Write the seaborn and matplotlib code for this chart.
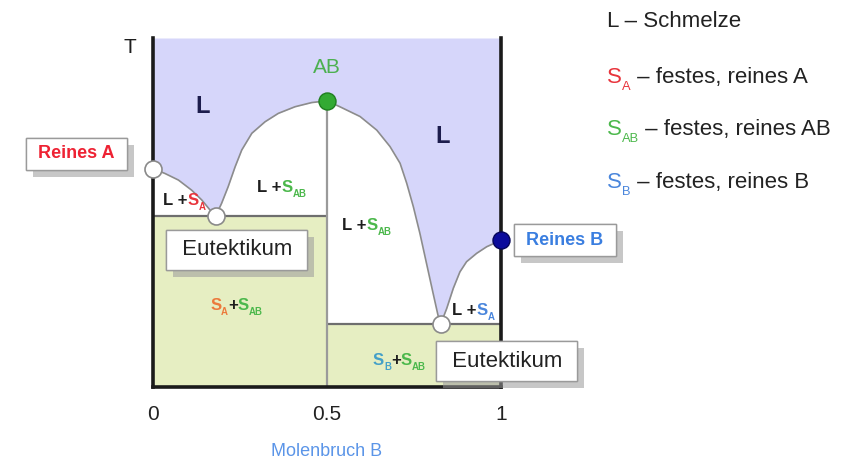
import matplotlib
matplotlib.use("Agg")
import pandas as pd
import matplotlib.pyplot as plt
import matplotlib.patheffects as pe
import seaborn as sns

# Liquiduskurven: Molenbruch B und relative Temperatur (0..100)
branch_a_x  = [0.0, 0.034, 0.073, 0.111, 0.140, 0.164, 0.180]
branch_a_T  = [62.5, 61.2, 59.3, 56.4, 53.6, 50.7, 49.0]
branch_ab_x = [0.180, 0.197, 0.216, 0.236, 0.255, 0.284, 0.322, 0.360, 0.408, 0.456, 0.5,
               0.537, 0.595, 0.643, 0.681, 0.710, 0.729, 0.748, 0.767, 0.786, 0.805, 0.820, 0.827]
branch_ab_T = [49.0, 52.6, 57.4, 63.1, 67.9, 72.7, 76.0, 78.4, 80.3, 81.5, 82.0,
               80.3, 77.5, 73.6, 68.9, 64.1, 58.4, 51.7, 44.0, 35.4, 26.8, 20.1, 18.1]
branch_b_x  = [0.827, 0.844, 0.863, 0.882, 0.901, 0.930, 0.959, 0.988, 1.0]
branch_b_T  = [18.1, 22.5, 28.3, 33.0, 35.9, 38.3, 40.2, 41.5, 42.1]

# Eutektika (links / rechts) und Schmelzpunkte
eut_x   = [0.180, 0.827]
eut_T   = [49.0, 18.1]
melt_names = ["Reines A", "AB", "Reines B"]
melt_x     = [0.0, 0.5, 1.0]
melt_T     = [62.5, 82.0, 42.1]

x_ticks       = [0, 0.5, 1]
x_tick_labels = ["0", "0.5", "1"]

RED    = "#e8343c"
GREEN  = "#4cb84c"
BLUE   = "#4a86dc"
DARK   = "#1e1e1e"
NAVY   = "#1c1c4c"
LAV    = "#d6d6fa"
OLIVE  = "#e6eec2"
CURVE  = "#8c8c8c"

sns.set_style("white")
plt.rcParams["font.family"] = ["Liberation Sans", "DejaVu Sans"]

curves = pd.concat([
    pd.DataFrame({"x": branch_a_x, "T": branch_a_T, "branch": "A"}),
    pd.DataFrame({"x": branch_ab_x, "T": branch_ab_T, "branch": "AB"}),
    pd.DataFrame({"x": branch_b_x, "T": branch_b_T, "branch": "B"}),
], ignore_index=True)

fig = plt.figure(figsize=(8.65, 4.66), dpi=100)
ax = fig.add_axes([153 / 865, 79 / 466, 348 / 865, 349 / 466])

# Flaechen
liq_x = branch_a_x + branch_ab_x[1:] + branch_b_x[1:]
liq_T = branch_a_T + branch_ab_T[1:] + branch_b_T[1:]
ax.fill_between(liq_x, liq_T, 100, color=LAV, lw=0, zorder=0)
ax.fill_between([0, 0.5], 0, eut_T[0], color=OLIVE, lw=0, zorder=0)
ax.fill_between([0.5, 1], 0, eut_T[1], color=OLIVE, lw=0, zorder=0)

# Linien
ax.hlines(eut_T[0], 0, 0.5, color="#6e6e6e", lw=1.6, zorder=1)
ax.hlines(eut_T[1], 0.5, 1, color="#6e6e6e", lw=1.6, zorder=1)
ax.vlines(0.5, 0, melt_T[1], color="#9a9a9a", lw=1.6, zorder=1)
sns.lineplot(data=curves, x="x", y="T", units="branch", estimator=None, sort=False,
             color=CURVE, lw=1.2, ax=ax, zorder=2)

# Punkte
white_pts = pd.DataFrame({"x": [melt_x[0]] + eut_x, "T": [melt_T[0]] + eut_T})
sns.scatterplot(data=white_pts, x="x", y="T", color="white", edgecolor="#8a8a8a",
                linewidth=1.2, s=150, ax=ax, zorder=5, clip_on=False)
sns.scatterplot(x=[melt_x[1]], y=[melt_T[1]], color="#33aa33", edgecolor="#1f7f1f",
                linewidth=1, s=150, ax=ax, zorder=5, clip_on=False)
sns.scatterplot(x=[melt_x[2]], y=[melt_T[2]], color="#0c0c9c", edgecolor="#06065a",
                linewidth=1, s=150, ax=ax, zorder=5, clip_on=False)

ax.set_xlim(0, 1)
ax.set_ylim(0, 100)
ax.set_xticks(x_ticks)
ax.set_xticklabels(x_tick_labels, fontsize=15, color="#222222")
ax.set_yticks([])
ax.tick_params(length=0, pad=13)
ax.set_xlabel("Molenbruch B", fontsize=13, color="#5b95e8", labelpad=14)
ax.set_ylabel("")
for side in ["left", "right", "bottom"]:
    ax.spines[side].set_color("#1a1a1a")
    ax.spines[side].set_linewidth(2.6)
ax.spines["top"].set_visible(False)


def rich(x, y, parts, size, weight="bold", coords=None):
    coords = coords or ax.transData
    text, color, _ = parts[0]
    main = prev = ax.text(x, y, text, color=color, fontsize=size, fontweight=weight,
                          va="baseline", transform=coords, clip_on=False, zorder=6)
    for text, color, sub in parts[1:]:
        prev = ax.annotate(text, xy=(1, 0), xycoords=(prev, main),
                           xytext=(0, -0.24 * size if sub else 0), textcoords="offset points",
                           fontsize=size * 0.58 if sub else size, color=color,
                           fontweight=weight, va="bottom", ha="left", zorder=6)


# Beschriftungen im Diagramm
ax.text(0.121, 78.5, "L", fontsize=17, fontweight="bold", color=NAVY, va="baseline")
ax.text(0.81, 69.9, "L", fontsize=17, fontweight="bold", color=NAVY, va="baseline")
ax.text(0.5, 90.0, "AB", fontsize=15, color="#4cb050", ha="center", va="baseline")
ax.text(-0.066, 97.4, "T", fontsize=15, color=DARK, ha="center", va="center", clip_on=False)

rich(0.029, 52.1, [("L +", DARK, False), ("S", RED, False), ("A", RED, True)], 12)
rich(0.299, 55.9, [("L +", DARK, False), ("S", GREEN, False), ("AB", GREEN, True)], 12)
rich(0.543, 45.0, [("L +", DARK, False), ("S", GREEN, False), ("AB", GREEN, True)], 12)
rich(0.859, 20.6, [("L +", DARK, False), ("S", BLUE, False), ("A", BLUE, True)], 12)
rich(0.164, 22.1, [("S", "#ec7a3c", False), ("A", "#ec7a3c", True), ("+", DARK, False),
                   ("S", GREEN, False), ("AB", GREEN, True)], 12)
rich(0.632, 6.3, [("S", "#44a0c8", False), ("B", "#44a0c8", True), ("+", DARK, False),
                  ("S", GREEN, False), ("AB", GREEN, True)], 12)


def box(x, y, text, color, size, weight="normal"):
    t = ax.text(x, y, text, fontsize=size, color=color, fontweight=weight,
                ha="center", va="center", clip_on=False, zorder=7,
                bbox=dict(boxstyle="square,pad=0.42", fc="white", ec="#9a9a9a", lw=1))
    t.get_bbox_patch().set_path_effects([
        pe.withSimplePatchShadow(offset=(5, -5), shadow_rgbFace="#9a9a9a", alpha=0.55),
        pe.Normal()])


box(0.241, 39.3, " Eutektikum ", "#222222", 16)
box(1.017, 7.4, " Eutektikum ", "#222222", 16)
box(-0.221, 66.8, " Reines A ", "#ee2233", 13, "bold")
box(1.184, 42.1, " Reines B ", "#3a7ee0", 13, "bold")

# Legende rechts
rich(1.305, 103.2, [("L – Schmelze", "#222222", False)], 16, "normal")
rich(1.305, 87.1, [("S", RED, False), ("A", RED, True), (" – festes, reines A", "#222222", False)], 16, "normal")
rich(1.305, 72.2, [("S", GREEN, False), ("AB", GREEN, True), (" – festes, reines AB", "#222222", False)], 16, "normal")
rich(1.305, 57.0, [("S", BLUE, False), ("B", BLUE, True), (" – festes, reines B", "#222222", False)], 16, "normal")

fig.savefig("out.png", dpi=100)
